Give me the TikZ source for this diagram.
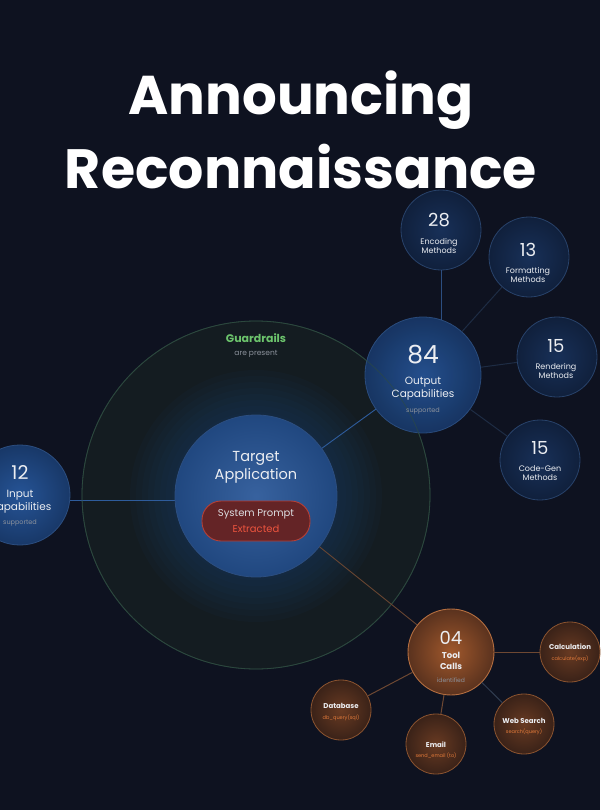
\documentclass[tikz,border=0pt]{standalone}
\usepackage{fontspec}
\usepackage{graphicx}
\setmainfont{Poppins}
\usetikzlibrary{calc}
\definecolor{bg}{RGB}{14,18,32}
\definecolor{gfill}{RGB}{20,28,33}
\definecolor{gline}{RGB}{44,72,62}
\definecolor{gtext}{RGB}{108,196,108}
\definecolor{graytext}{RGB}{140,146,156}
\definecolor{blin}{RGB}{38,84,150}
\definecolor{bout}{RGB}{24,56,104}
\definecolor{bbord}{RGB}{44,78,128}
\definecolor{minner}{RGB}{24,48,88}
\definecolor{mouter}{RGB}{16,32,60}
\definecolor{mbord}{RGB}{40,66,106}
\definecolor{bconn}{RGB}{46,92,156}
\definecolor{dconn}{RGB}{30,44,68}
\definecolor{oin}{RGB}{160,88,44}
\definecolor{oout}{RGB}{90,50,30}
\definecolor{obord}{RGB}{180,110,64}
\definecolor{soin}{RGB}{104,58,34}
\definecolor{soout}{RGB}{58,34,24}
\definecolor{sobord}{RGB}{140,84,48}
\definecolor{otext}{RGB}{226,122,58}
\definecolor{oconn}{RGB}{110,72,50}
\definecolor{pillfill}{RGB}{100,36,38}
\definecolor{pillbord}{RGB}{180,64,56}
\definecolor{redtext}{RGB}{236,84,62}
\definecolor{wtext}{RGB}{236,238,242}
\tikzset{
  bignode/.style={circle, draw=bbord, line width=0.8pt, inner color=blin, outer color=bout, text=wtext, align=center, inner sep=0pt},
  methnode/.style={circle, draw=mbord, line width=0.8pt, inner color=minner, outer color=mouter, text=wtext, align=center, inner sep=0pt, minimum size=80pt},
  toolnode/.style={circle, draw=obord, line width=0.9pt, inner color=oin, outer color=oout, text=wtext, align=center, inner sep=0pt},
  fnnode/.style={circle, draw=sobord, line width=0.8pt, inner color=soin, outer color=soout, text=wtext, align=center, inner sep=0pt, minimum size=60pt},
  lbl/.style={text=wtext, align=center, inner sep=0pt},
  bconnector/.style={draw=bconn, line width=0.9pt},
  dconnector/.style={draw=dconn, line width=1pt},
  oconnector/.style={draw=oconn, line width=1pt},
  fnum/.style={font=\fontsize{18}{20}\selectfont},
  fmeth/.style={font=\fontsize{8}{9.8}\selectfont},
  fcap/.style={font=\fontsize{10.5}{13}\selectfont},
  fsub/.style={font=\fontsize{6.5}{8}\selectfont, text=graytext},
  ftool/.style={font=\fontsize{7}{8}\selectfont\bfseries},
  ffn/.style={font=\fontsize{5}{6}\selectfont, text=otext},
}
\begin{document}
\begin{tikzpicture}[x=1pt,y=-1pt]
\fill[bg] (0,0) rectangle (600,810);
\useasboundingbox (0,0) rectangle (600,810);
\node[text=white, inner sep=0] (t1) at (301,100) {\resizebox{345pt}{!}{\bfseries Announcing}};
\node[text=white, inner sep=0] (t2) at (301,167) {\resizebox{472pt}{!}{\bfseries Reconnaissance}};

% guardrails
\node[circle, fill=gfill, draw=gline, line width=0.8pt, minimum size=348pt, inner sep=0] (guard) at (256,495) {};
\node[text=gtext, inner sep=0, font=\fontsize{11}{13}\selectfont\bfseries] (glabel) at (256,338) {Guardrails};
\node[text=graytext, inner sep=0, font=\fontsize{7.5}{9}\selectfont] (gsub) at (256,354) {are present};

% glow rings
\foreach \r in {126,120,...,84}{
  \fill[blin, opacity=0.045] (256,496) circle (\r);
}

% input connector
\coordinate (inR) at (70,500);
\draw[bconnector] (inR) -- (175,500);

% target
\node[bignode, minimum size=162pt, inner color=blin!92!white, outer color=blin!85!black] (target) at (256,496) {};
\node[lbl, font=\fontsize{14.5}{18}\selectfont] (ttext) at (256,467) {Target\\Application};
\node[draw=pillbord, line width=0.9pt, fill=pillfill, rounded corners=19pt, minimum width=108pt, minimum height=40pt, inner sep=0] (pill) at (256,521) {};
\node[lbl, text=wtext!85!gray, font=\fontsize{10}{12}\selectfont] (sp) at (256,514) {System Prompt};
\node[lbl, text=redtext, font=\fontsize{10}{12}\selectfont] (ex) at (256,529) {Extracted};

% input
\node[bignode, minimum size=100pt] (input) at (20,495) {};
\node[lbl, font=\fontsize{19}{22}\selectfont] at (20,473) {12};
\node[lbl, fcap] at (20,502) {Input\\Capabilities};
\node[lbl, fsub] at (20,523) {supported};

% output
\node[bignode, minimum size=116pt, opacity=0.92] (output) at (423,375) {};
\draw[bconnector] (target) -- (output);
\draw[gline, line width=0.8pt, opacity=0.6] (256,495) circle (174);
\node[lbl, font=\fontsize{25}{28}\selectfont] at (423,355) {84};
\node[lbl, fcap] at (423,389) {Output\\Capabilities};
\node[lbl, fsub] at (423,411) {supported};

% methods
\node[methnode] (enc) at (441,230) {};
\node[methnode] (fmt) at (529,257) {};
\node[methnode] (ren) at (557,357) {};
\node[methnode] (cod) at (540,460) {};
\draw[dconnector] (output) -- (fmt);
\draw[dconnector] (output) -- (ren);
\draw[dconnector] (output) -- (cod);
\draw[bconnector, draw=bbord] (enc.south) -- ($(output.center)+(18,-55)$);
\node[lbl, fnum] at (439,220) {28};
\node[lbl, fmeth] at (439,246) {Encoding\\Methods};
\node[lbl, fnum] at (528,250) {13};
\node[lbl, fmeth] at (528,275) {Formatting\\Methods};
\node[lbl, fnum] at (556,346) {15};
\node[lbl, fmeth] at (556,371) {Rendering\\Methods};
\node[lbl, fnum] at (540,448) {15};
\node[lbl, fmeth] at (540,473) {Code-Gen\\Methods};

% tool calls
\node[toolnode, minimum size=86pt] (tool) at (451,652) {};
\draw[oconnector, line width=0.8pt] (target) -- (tool);
\node[fnnode] (calc) at (570,652) {};
\node[fnnode] (db) at (341,710) {};
\node[fnnode] (mail) at (436,744) {};
\node[fnnode] (web) at (524,724) {};
\draw[oconnector] (tool) -- (calc);
\draw[oconnector] (tool) -- (db);
\draw[oconnector] (tool) -- (mail);
\draw[dconnector, draw=dconn!80!gray] (tool) -- (web);
\node[lbl, fnum] at (451,638) {04};
\node[lbl, font=\fontsize{8.5}{10.5}\selectfont\bfseries] at (451,661) {Tool\\Calls};
\node[lbl, fsub, font=\fontsize{6}{7}\selectfont] at (451,680) {identified};
\node[lbl, ftool] at (570,647) {Calculation};
\node[lbl, ffn] at (570,659) {calculate(exp)};
\node[lbl, ftool] at (341,706) {Database};
\node[lbl, ffn] at (341,718) {db\_query(sql)};
\node[lbl, ftool] at (436,745) {Email};
\node[lbl, ffn] at (436,756) {send\_email (to)};
\node[lbl, ftool] at (524,721) {Web Search};
\node[lbl, ffn] at (524,732) {search(query)};
\end{tikzpicture}
\end{document}
